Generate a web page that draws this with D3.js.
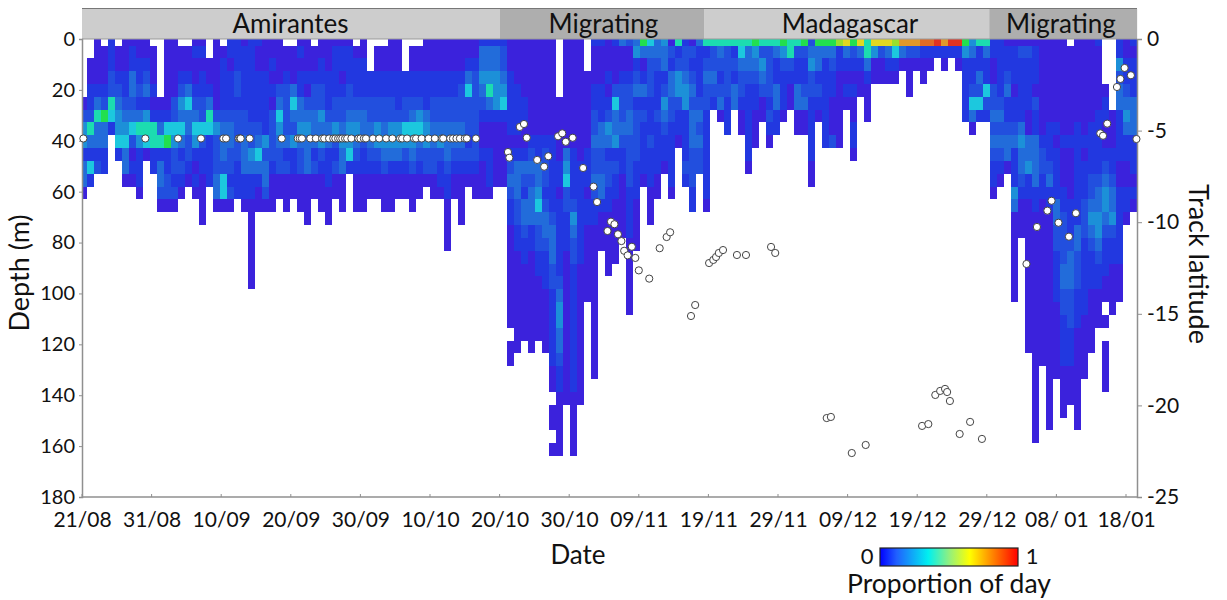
<!DOCTYPE html>
<html><head><meta charset="utf-8">
<style>html,body{margin:0;background:#fff}svg{display:block}text{font-family:Lato,"Open Sans",sans-serif;fill:#111}</style>
<script src="https://cdn.jsdelivr.net/npm/d3@7"></script></head><body><div id="c"></div>
<script>
// One string per day: char k is the colour level of the 5 m depth bin k ('.' = no data)
const dayProfiles = [
".....02441330","..0011263151","00001363312",".0001273311","11122651",".001234451","000112345330","011332352010","0011213641110","0012314650",
".0001016611",".....013613320","00000015711220","00000225422120",".001243531210",".00135332210","0100123541010","010112252110000","..0013651111","00000024222330",
".0111123332550","11011123322120","1112212222111","01111122333110","11111112243110000000","10011112353100","00011111423320","00101022221000","0000235432200",".0012222312000",
".000353241100","01011334322000","000102343330000",".001223331200","00112243421000","000111233111000","0111122421200","01101223433000","01112234451",".0111234321000",
"00111233211000","...1122332100",".001122442100",".0011223432000","00011224431000","0001112443100","...1122542100",".0011235432000",".001124532100","000111344220",
"0001122332200","0001122342110","00011223332110000","0001122332100","000122233210000","001352221210","0012222222100","1334321001000","1334631001110","133444100000",
"122345100000","00011111012321100000000.00","0000111101333221100000000","000001100132133211000000","0000000012323331100000000","000000001133453221100000","0000000012221233211100000","0000000011111123332211111100.00.0",".....0000011011111123443321100000","00000000034522111000000000000",
"000000000111124322111111111100000","00000000001111111100000000000","...000000111011000000","100011223223211000000000000","10001113322331000","0001012431221100000","100025334121100000","3001222321100000","2001223322221111000000","34123122221110000",
"730131211110","532221112111000","3321112111100","43312432110","0213322111110","612442110","122344111121","02123233322211","31111232322","61232211111110",
"622321","6321230","62222111","612133","65322100","63321111110","743211000","6243200","622221210","63113311",
"7421110","662100","62113300","72112300","234221111100","7331210","731111111","732110002","811000000","931010",
"7210100110","93100","6631000","9400","9200","9310","8510","a30","a2000","a20",
"b100","b10","c1","a10","c1","c10","7411111","43112530","6113251","6311521",
"1100223232110","111112323210","01123112330","011101123111430000000","0211111343321000","0211110033411000000000000","01110211333311000000000000000000","00000000122110000000000000","0000000111231100000000000000000","000000010111133221111000000",
"000000001000112222332211110000",".0000000100001112333222111000","0000000111111113322211100000000","000000001011122211111100000","0000000111122343211100000","10000011111233443211000","....01100123443211100.0.0000","......0001123342110000","114233111100111111000","001123431100110",
"10111333111010"];
const levelValues = [0.02,0.07,0.13,0.2,0.27,0.34,0.42,0.5,0.6,0.68,0.8,0.88,0.96];
const heatStops  = [0.02,0.07,0.13,0.2,0.27,0.34,0.42,0.5,0.6,0.68,0.8,0.88,0.96];
const heatColors = ["#3a20dc","#2038e0","#2050de","#206cda","#1e90d8","#1cc8de","#1edcb0","#22df50","#9adf2e","#e0d820","#e2982a","#e26a26","#e23024"];
const jetStops  = [0,0.12,0.35,0.5,0.65,0.8,1];
const jetColors = ["#0000ff","#2060ff","#00f0f0","#90f080","#ffff00","#ff9000","#ff0000"];

const amirantesDays = [0.2,9.1,13.8,17.1,20.3,20.7,22.5,22.7,22.8,24.1,28.7,31,31.3,31.6,32.8,33.6,34.5,34.8,35.5,36.1,36.4,36.8,37.1,37.4,37.8,38.1,38.7,39.7,40,40.5,40.8,41.8,42.7,43.7,44.6,45.7,46,46.7,47.7,48,48.8,49.8,50.7,51.7,51.9,52.9,53.3,53.8,54.3,55,55.3,56.6];
const amirantesLat = -5.43;
const trackDays = [61.2,61.4,62.9,63.5,63.9,65.4,66.4,67,68.4,69,69.5,70.5,72,73.5,74,75.5,76,76.5,77,77.5,77.9,78.4,79,79.5,80,81.5,83,84,84.5,87.5,88.1,90.1,90.7,91.1,91.5,92.1,94.1,95.4,99,99.6,107,107.6,110.6,112.6,120.7,121.6,122.6,123.3,124,124.3,124.7,126.1,127.6,129.3,135.7,137.2,138.7,139.3,140.3,141.8,142.8,146.3,146.7,147.3,148.7,149.2,149.8,150.7,151.5];
const trackLats = [-6.17,-6.48,-4.8,-4.64,-5.39,-6.6,-6.97,-6.4,-5.31,-5.15,-5.61,-5.39,-7.04,-8.06,-8.9,-10.48,-9.97,-10.11,-10.66,-11.03,-11.56,-11.81,-11.34,-11.95,-12.63,-13.08,-11.42,-10.81,-10.55,-15.12,-14.52,-12.23,-12.06,-11.9,-11.68,-11.52,-11.79,-11.79,-11.35,-11.68,-20.69,-20.63,-22.6,-22.16,-21.12,-21.02,-19.43,-19.21,-19.1,-19.27,-19.76,-21.56,-20.9,-21.83,-12.28,-10.26,-9.37,-8.83,-10.03,-10.79,-9.51,-5.15,-5.28,-4.62,-2.62,-2.18,-1.58,-1.98,-5.46];

const phaseNames = ["Amirantes","Migrating","Madagascar","Migrating"];
const phaseEnds  = [60,89.45,130.35,151.6];
const dateLabels = ["21/08","31/08","10/09","20/09","30/09","10/10","20/10","30/10","09/11","19/11","29/11","09/12","19/12","29/12","08/ 01","18/01"];
const dateTicks = [0,10,20,30,40,50,60,70,80,90,100,110,120,130,140,150];
const depthTicks = [0,20,40,60,80,100,120,140,160,180];
const latTicks = [0,-5,-10,-15,-20,-25];

const W=1227,H=600,L=82,R=1137,T=39,B=497;
const svg=d3.select("#c").append("svg").attr("width",W).attr("height",H);
const x=d3.scaleLinear().domain([0,150]).range([L,1126]);
const cellX=d3.scaleLinear().domain([0.5,150.5]).range([86.7,1136.7]);
const y=d3.scaleLinear().domain([0,180]).range([T,B]);
const cellY=d3.scaleLinear().domain([2.5,162.5]).range([45.5,456.1]);
const lat=d3.scaleLinear().domain([0,-25]).range([T,B]);
const heat=d3.scaleLinear().domain(heatStops).range(heatColors).clamp(true);
const jet=d3.scaleLinear().domain(jetStops).range(jetColors);
const GREY="#8f8f8f";

// heat cells
const cells=[];
dayProfiles.forEach((p,d)=>{for(let k=0;k<p.length;k++){if(p[k]!==".")cells.push({d,k,v:levelValues[parseInt(p[k],16)]});}});
svg.append("g").attr("filter","url(#soft)").selectAll("rect").data(cells).join("rect")
 .attr("shape-rendering","crispEdges")
 .attr("x",c=>c.d===0?L:cellX(c.d-0.5))
 .attr("width",c=>c.d===0?cellX(0.5)-L:cellX(c.d+0.5)-cellX(c.d-0.5))
 .attr("y",c=>c.k===0?T:cellY(c.k*5-2.5))
 .attr("height",c=>c.k===0?cellY(2.5)-T:cellY(c.k*5+2.5)-cellY(c.k*5-2.5))
 .attr("fill",c=>heat(c.v));
const defs=svg.append("defs");
defs.append("filter").attr("id","soft").attr("x","-2%").attr("y","-2%").attr("width","104%").attr("height","104%")
 .append("feGaussianBlur").attr("stdDeviation",0.6);

// phase band
const starts=[0].concat(phaseEnds.slice(0,-1));
const g=svg.append("g");
g.selectAll("rect").data(phaseNames).join("rect")
 .attr("x",(d,i)=>i===0?L:x(starts[i])).attr("y",9).attr("height",T-9)
 .attr("width",(d,i)=>x(phaseEnds[i])-(i===0?L:x(starts[i])))
 .attr("fill",(d,i)=>i%2?"#aeaeae":"#cdcdcd");
g.selectAll("text").data(phaseNames).join("text")
 .attr("x",(d,i)=>[290.5,603.5,850,1061][i]).attr("y",33).attr("text-anchor","middle")
 .attr("font-size",26).text(d=>d);
svg.append("line").attr("x1",L).attr("x2",R).attr("y1",8.5).attr("y2",8.5).attr("stroke","#777").attr("stroke-width",1);
svg.append("line").attr("x1",L).attr("x2",R).attr("y1",39).attr("y2",39).attr("stroke","#999").attr("stroke-width",1);

// axes
const axL=svg.append("g").attr("transform",`translate(${L},0)`).call(d3.axisLeft(y).tickValues(depthTicks).tickSize(3).tickPadding(4));
const axR=svg.append("g").attr("transform",`translate(${R},0)`).call(d3.axisRight(lat).tickValues(latTicks).tickSize(5).tickPadding(5).tickFormat(d=>d));
const axB=svg.append("g").attr("transform",`translate(0,${B})`).call(d3.axisBottom(x).tickValues(dateTicks).tickSize(0).tickPadding(15).tickFormat((d,i)=>dateLabels[i]));
svg.append("g").selectAll("line").data(dateTicks).join("line").attr("x1",d=>x(d)).attr("x2",d=>x(d)).attr("y1",B-3).attr("y2",B).attr("stroke",GREY);
[axL,axR,axB].forEach(a=>{a.selectAll("path").attr("stroke",GREY).attr("stroke-width",1.5);a.selectAll("line").attr("stroke",GREY);a.selectAll("text").attr("font-size",21).attr("font-family","Lato").attr("fill","#111");});
axL.selectAll("text").attr("font-size",20);
axB.select("path").attr("d",`M${L},0H${R}`);

// track points
const pts=amirantesDays.map(d=>[d,amirantesLat]).concat(trackDays.map((d,i)=>[d,trackLats[i]]));
svg.append("g").selectAll("circle").data(pts).join("circle")
 .attr("cx",d=>x(d[0])).attr("cy",d=>lat(d[1])).attr("r",3.6)
 .attr("fill","#fff").attr("stroke","#444").attr("stroke-width",1);

// labels
const lab=(t,xx,yy,s,rot)=>svg.append("text").attr("text-anchor","middle").attr("font-size",s)
 .attr("transform",`translate(${xx},${yy})`+(rot?` rotate(${rot})`:"")).text(t);
lab("Depth (m)",29,273,27,-90);
lab("Track latitude",1189,264,27,90);
lab("Date",578,564,26);
lab("Proportion of day",949,593,26.5);
lab("0",867,564,22);
lab("1",1032,564,22);

// colour bar
const gr=defs.append("linearGradient").attr("id","jet");
jetStops.forEach(s=>gr.append("stop").attr("offset",s).attr("stop-color",jet(s)));
svg.append("rect").attr("x",880).attr("y",548).attr("width",138).attr("height",18).attr("fill","url(#jet)").attr("stroke","#222").attr("stroke-width",1.2);
</script></body></html>
